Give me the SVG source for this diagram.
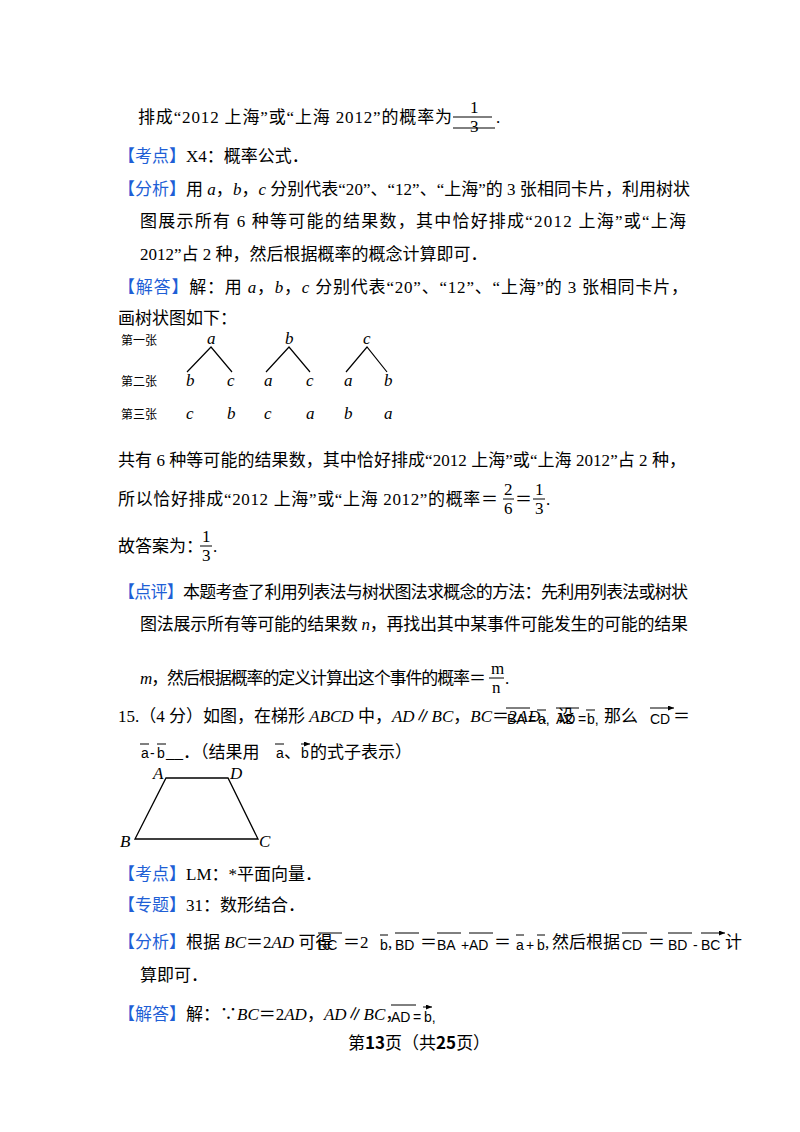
<svg xmlns="http://www.w3.org/2000/svg" width="800" height="1132" viewBox="0 0 800 1132">
<defs><marker id="ah" markerUnits="userSpaceOnUse" markerWidth="6" markerHeight="5" refX="6" refY="2.5" orient="auto"><path d="M0,0 L6,2.5 L0,5 z" fill="#000"/></marker></defs>
<style>
text{font-family:"Liberation Serif","Noto Sans CJK SC",serif;font-size:17px;fill:#000}
.b{fill:#1f5fd6}
.i{font-style:italic}
.s{font-size:12px}
.m{font-family:"Liberation Sans",sans-serif;font-size:14px}
.v{stroke:#000;stroke-width:1;fill:none;marker-end:url(#ah)}
.ln{stroke:#000;stroke-width:1.2;fill:none}
.f{stroke:#000;stroke-width:1}
</style>
<rect width="800" height="1132" fill="#fff"/>
<text x="138" y="123" textLength="314" lengthAdjust="spacing">排成“2012 上海”或“上海 2012”的概率为</text>
<text x="470" y="113" font-size="14">1</text><line class="f" x1="453" y1="117" x2="492" y2="117"/><text x="470" y="132" font-size="14">3</text><line class="f" x1="453" y1="128" x2="495" y2="128"/><text x="496" y="123">.</text>
<text x="118" y="162"><tspan class="b">【考点】</tspan>X4：概率公式．</text>
<text x="118" y="195" textLength="572" lengthAdjust="spacing"><tspan class="b">【分析】</tspan>用 <tspan class="i">a</tspan>，<tspan class="i">b</tspan>，<tspan class="i">c</tspan> 分别代表“20”、“12”、“上海”的 3 张相同卡片，利用树状</text>
<text x="140" y="227" textLength="546" lengthAdjust="spacing">图展示所有 6 种等可能的结果数，其中恰好排成“2012 上海”或“上海</text>
<text x="140" y="260">2012”占 2 种，然后根据概率的概念计算即可．</text>
<text x="118" y="293" textLength="570" lengthAdjust="spacing"><tspan class="b">【解答】</tspan>解：用 <tspan class="i">a</tspan>，<tspan class="i">b</tspan>，<tspan class="i">c</tspan> 分别代表“20”、“12”、“上海”的 3 张相同卡片，</text>
<text x="118" y="324">画树状图如下：</text>
<g id="tree">
<text x="121" y="345" class="s">第一张</text><text x="121" y="386" class="s">第二张</text><text x="121" y="419" class="s">第三张</text>
<g class="s i"><text x="207" y="344">a</text><text x="285" y="344">b</text><text x="363" y="344">c</text>
<text x="186" y="386">b</text><text x="227" y="386">c</text><text x="264" y="386">a</text><text x="306" y="386">c</text><text x="344" y="386">a</text><text x="384" y="386">b</text>
<text x="186" y="419">c</text><text x="227" y="419">b</text><text x="264" y="419">c</text><text x="306" y="419">a</text><text x="344" y="419">b</text><text x="384" y="419">a</text></g>
<path class="ln" d="M187,372 L211,347 L232,372 M266,372 L289,347 L310,372 M346,372 L367,347 L387,372"/>
</g>
<text x="118" y="466" textLength="568" lengthAdjust="spacing">共有 6 种等可能的结果数，其中恰好排成“2012 上海”或“上海 2012”占 2 种，</text>
<text x="118" y="505" textLength="380" lengthAdjust="spacing">所以恰好排成“2012 上海”或“上海 2012”的概率＝</text>
<text x="504" y="495" font-size="14">2</text><line class="f" x1="503" y1="499" x2="514" y2="499"/><text x="504" y="514" font-size="14">6</text>
<text x="515" y="505">＝</text>
<text x="535" y="495" font-size="14">1</text><line class="f" x1="533" y1="499" x2="545" y2="499"/><text x="535" y="514" font-size="14">3</text><text x="546" y="505">.</text>
<text x="118" y="552">故答案为：</text>
<text x="202" y="542" font-size="14">1</text><line class="f" x1="200" y1="546" x2="212" y2="546"/><text x="202" y="561" font-size="14">3</text><text x="213" y="552">.</text>
<text x="118" y="598" textLength="570" lengthAdjust="spacing"><tspan class="b">【点评】</tspan>本题考查了利用列表法与树状图法求概念的方法：先利用列表法或树状</text>
<text x="140" y="630" textLength="548" lengthAdjust="spacing">图法展示所有等可能的结果数 <tspan class="i">n</tspan>，再找出其中某事件可能发生的可能的结果</text>
<text x="140" y="684" textLength="346" lengthAdjust="spacing"><tspan class="i">m</tspan>，然后根据概率的定义计算出这个事件的概率＝</text>
<text x="491" y="674" font-size="14">m</text><line class="f" x1="489" y1="678" x2="504" y2="678"/><text x="492" y="693" font-size="14">n</text><text x="505" y="684">.</text>
<text x="118" y="722">15.（4 分）如图，在梯形 <tspan class="i">ABCD</tspan> 中，<tspan class="i">AD</tspan>∥<tspan class="i">BC</tspan>，<tspan class="i">BC</tspan>＝2<tspan class="i">AD</tspan>．设</text>
<text class="m" x="507" y="724">BA</text><text class="m" x="528" y="724">=</text><text class="m" x="538" y="724">a,</text>
<text class="m" x="556" y="724">AD</text><text class="m" x="578" y="724">=</text><text class="m" x="587" y="724">b,</text>
<text x="604" y="722">那么</text><text class="m" x="650" y="724">CD</text><text x="673" y="722">＝</text>
<path class="v" d="M506,708 H530 M537,710 H546 M556,708 H579 M586,710 H595 M650,708 H674"/>
<text class="m" x="141" y="758">a</text><text class="m" x="150" y="758">-</text><text class="m" x="157" y="758">b</text>
<text x="166" y="758">__．（结果用</text><text class="m" x="276" y="758">a</text><text x="284" y="758">、</text><text class="m" x="301" y="758">b</text><text x="310" y="758">的式子表示）</text>
<path class="v" d="M140,744 H149 M157,744 H166 M275,744 H284 M301,744 H310"/>
<g id="trap">
<path d="M166,778 L228,778 L258,839 L135,839 Z" fill="none" stroke="#000" stroke-width="1.3"/>
<g class="s i"><text x="153" y="779">A</text><text x="230" y="779">D</text><text x="120" y="847">B</text><text x="259" y="847">C</text></g>
</g>
<text x="118" y="880"><tspan class="b">【考点】</tspan>LM：*平面向量．</text>
<text x="118" y="911"><tspan class="b">【专题】</tspan>31：数形结合．</text>
<text x="118" y="948"><tspan class="b">【分析】</tspan>根据 <tspan class="i">BC</tspan>＝2<tspan class="i">AD</tspan> 可得</text>
<text class="m" x="318" y="950">BC</text><text x="343" y="948">＝2</text><text class="m" x="380" y="950">b</text><text x="388" y="948">,</text>
<text class="m" x="395" y="950">BD</text><text x="420" y="948">＝</text><text class="m" x="437" y="950">BA</text><text class="m" x="461" y="950">+</text><text class="m" x="469" y="950">AD</text><text x="494" y="948">＝</text>
<text class="m" x="516" y="950">a</text><text class="m" x="526" y="950">+</text><text class="m" x="537" y="950">b</text><text x="545" y="948">,</text><text x="552" y="948">然后根据</text>
<text class="m" x="622" y="950">CD</text><text x="648" y="948">＝</text><text class="m" x="668" y="950">BD</text><text class="m" x="693" y="950">-</text><text class="m" x="701" y="950">BC</text><text x="725" y="948">计</text>
<path class="v" d="M318,933 H342 M380,935 H388 M395,933 H419 M437,933 H461 M469,933 H493 M516,935 H524 M537,935 H545 M622,933 H647 M668,933 H692 M701,933 H725"/>
<text x="140" y="981">算即可．</text>
<text x="118" y="1020"><tspan class="b">【解答】</tspan>解：∵<tspan class="i">BC</tspan>＝2<tspan class="i">AD</tspan>，<tspan class="i">AD</tspan>∥<tspan class="i">BC</tspan>，</text>
<text class="m" x="391" y="1022">AD</text><text class="m" x="413" y="1022">=</text><text class="m" x="424" y="1022">b,</text>
<path class="v" d="M391,1005 H416 M423,1007 H432"/>
<text x="348" y="1049" font-size="13" style="font-family:'Noto Sans CJK SC',sans-serif">第<tspan font-weight="bold">13</tspan>页（共<tspan font-weight="bold">25</tspan>页）</text>
</svg>
